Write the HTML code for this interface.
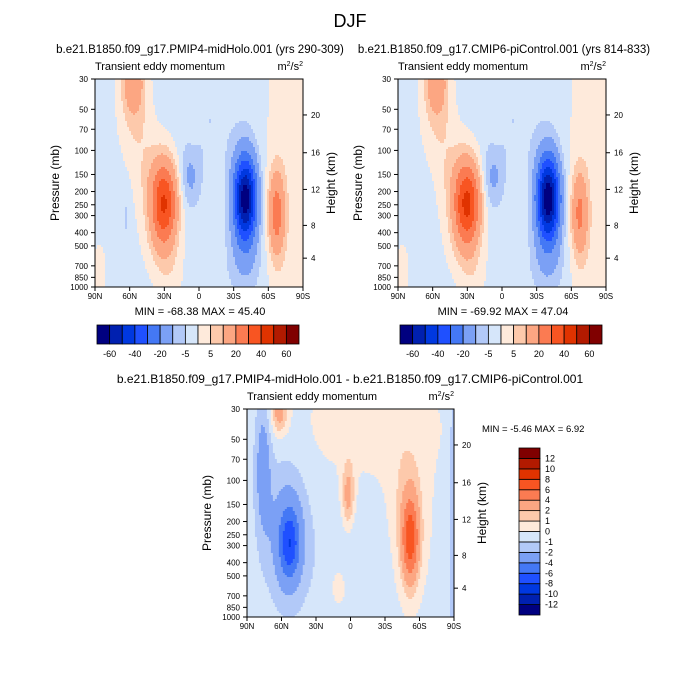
<!DOCTYPE html>
<html><head><meta charset="utf-8"><style>
body{margin:0;background:#fff;}
svg{display:block;font-family:"Liberation Sans",sans-serif;}
</style></head><body>
<svg id="chart" width="700" height="700" viewBox="0 0 700 700">
<text x="350" y="27" font-size="18" text-anchor="middle">DJF</text>
<text x="200" y="53" font-size="11.5" text-anchor="middle">b.e21.B1850.f09_g17.PMIP4-midHolo.001 (yrs 290-309)</text>
<text x="504" y="53" font-size="11.5" text-anchor="middle">b.e21.B1850.f09_g17.CMIP6-piControl.001 (yrs 814-833)</text>
<text x="350" y="383" font-size="12" text-anchor="middle">b.e21.B1850.f09_g17.PMIP4-midHolo.001 - b.e21.B1850.f09_g17.CMIP6-piControl.001</text>
<g id="layer"></g>
</svg>
<script>
const pTicks=[30,50,70,100,150,200,250,300,400,500,700,850,1000];
const hTicks=[20,16,12,8,4];
const hTickPress=[55,104,193,354,615];
const latTicks=["90N","60N","30N","0","30S","60S","90S"];
const latTickVals=[90,60,30,0,-30,-60,-90];
const levelsTop=[-60,-50,-40,-30,-20,-10,-5,0,5,10,20,30,40,50,60];
const labelsTop=["-60","-40","-20","-5","5","20","40","60"];
const levelsDiff=[-12,-10,-8,-6,-4,-2,-1,0,1,2,4,6,8,10,12];
const colors=["#000080","#0020b0","#0038e0","#1f50ff","#4478f5","#7ba0f5","#b2c9f8","#d6e6fa","#feeadb","#fdc9ab","#fca682","#fb7b52","#f85522","#e03300","#b21a00","#800000"];
// blobs: [lat, pressure(mb), amplitude, sigmaLat(deg), sigmaLnP]
const blobsMid=[[30,240,40,8,0.5],[-40,225,-64,7,0.5],[-67,290,24,5,0.5],[57,30,18,7,0.4],[55,60,6,10,0.5],[45,150,5,10,0.5],[35,400,5,10,0.5],[25,800,4,8,0.4],[8,160,-9,6,0.35],[63,300,-4,3,0.35],[-40,650,-7,11,0.45],[-75,300,4.5,14,3],[86,750,3.5,5,0.4],[5,70,3,3,0.2],[-10,60,-3,20,0.8]];
const blobsPi=[[30,240,42,8,0.5],[-40,225,-66,7,0.5],[-67,290,21,5,0.5],[57,30,18,7,0.4],[55,60,6,10,0.5],[45,150,5,10,0.5],[35,400,5,10,0.5],[25,800,4,8,0.4],[8,160,-9,6,0.35],[63,300,-3,3,0.35],[-40,650,-7,11,0.45],[-75,300,4.5,14,3],[86,750,3.5,5,0.4],[5,70,3,3,0.2],[-10,60,-3,20,0.8]];
const blobsDiff=[[53,290,-5.2,6,0.4],[55,250,-2.5,12,0.8],[76,80,-2.5,5,0.8],[-52,270,6.6,5,0.5],[-50,200,1.8,12,0.9],[2,130,3,4,0.4],[62,32,3,5,0.25],[-20,40,0.9,45,0.7],[10,600,1.2,6,0.3],[-5,400,-0.6,30,0.8],[-90,200,-1.5,3,3]];
const baseMid=-2, basePi=-2, baseDiff=-0.4;

const NS='http://www.w3.org/2000/svg';
const layer=document.getElementById('layer');
function mk(tag,attrs,parent){const e=document.createElementNS(NS,tag);for(const k in attrs)e.setAttribute(k,attrs[k]);(parent||layer).appendChild(e);return e;}
const L=Math.log(1000/30);
function field(blobs,base,lat,p){let v=base;const lp=Math.log(p);for(const b of blobs){const dx=(lat-b[0])/b[3],dy=(lp-Math.log(b[1]))/b[4];v+=b[2]*Math.exp(-0.5*(dx*dx+dy*dy));}return v;}
function colorFor(v,lev){let i=0;while(i<lev.length&&v>=lev[i])i++;return colors[i];}
function panel(x0,y0,w,h,blobs,base,lev,name){
  const g=mk('g',{});
  
  
  const xS=lat=>x0+(90-lat)/180*w;
  const yS=p=>y0+h*Math.log(p/30)/L;
  const nx=104,ny=104;
  for(let j=0;j<ny;j++){
    let start=0,cur=null;
    const lp=Math.log(30)+(j+0.5)*L/ny;const p=Math.exp(lp);
    for(let i=0;i<=nx;i++){
      const c=i<nx?colorFor(field(blobs,base,90-(i+0.5)*180/nx,p),lev):null;
      if(c!==cur){
        if(cur!==null){const r=mk('rect',{x:(x0+start*w/nx).toFixed(2),y:(y0+j*h/ny).toFixed(2),width:((i-start)*w/nx+0.5).toFixed(2),height:(h/ny+0.5).toFixed(2),fill:cur},g);
          
          }
        cur=c;start=i;
      }
    }
  }
  const fr=mk('rect',{x:x0,y:y0,width:w,height:h,fill:'none',stroke:'#000','stroke-width':1},g);
  
  
  pTicks.forEach(p=>{const y=yS(p);mk('line',{x1:x0-4,x2:x0,y1:y,y2:y,stroke:'#000'},g);
    const t=mk('text',{x:x0-7,y:y+3,'font-size':8,'text-anchor':'end'},g);t.textContent=p;
    
    });
  hTicks.forEach((hk,k)=>{const y=yS(hTickPress[k]);mk('line',{x1:x0+w,x2:x0+w+4,y1:y,y2:y,stroke:'#000'},g);
    const t=mk('text',{x:x0+w+8,y:y+3,'font-size':8},g);t.textContent=hk;
    
    });
  latTickVals.forEach((lv,k)=>{const x=xS(lv);mk('line',{x1:x,x2:x,y1:y0+h,y2:y0+h+4,stroke:'#000'},g);
    const t=mk('text',{x:x,y:y0+h+12,'font-size':8,'text-anchor':'middle'},g);t.textContent=latTicks[k];
    
    });
  const a=mk('text',{x:0,y:0,'font-size':12,'text-anchor':'middle',transform:`translate(${x0-36},${y0+h/2}) rotate(-90)`},g);a.textContent='Pressure (mb)';
  
  
  const b=mk('text',{x:0,y:0,'font-size':12,'text-anchor':'middle',transform:`translate(${x0+w+32},${y0+h/2}) rotate(-90)`},g);b.textContent='Height (km)';
  
  
  const c=mk('text',{x:x0,y:y0-9,'font-size':11,'textLength':130},g);c.textContent='Transient eddy momentum';
  
  
  const d=mk('text',{x:x0+w,y:y0-9,'font-size':11,'text-anchor':'end'},g);d.innerHTML='m<tspan dy="-4" font-size="7">2</tspan><tspan dy="4">/s</tspan><tspan dy="-4" font-size="7">2</tspan>';
  
  
}
panel(95,79,208,208,blobsMid,baseMid,levelsTop,'midholo-panel');
panel(398,79,208,208,blobsPi,basePi,levelsTop,'picontrol-panel');
panel(247,409,207,208,blobsDiff,baseDiff,levelsDiff,'difference-panel');

function txt(x,y,s,str,anchor,name){const t=mk('text',{x:x,y:y,'font-size':s,'text-anchor':anchor||'start','xml:space':'preserve'});t.textContent=str;
  
  }
txt(200,315,11,'MIN = -68.38  MAX =  45.40','middle','midholo-minmax');
txt(503,315,11,'MIN = -69.92  MAX =  47.04','middle','picontrol-minmax');
txt(482,432,9.5,'MIN =  -5.46  MAX =   6.92','start','difference-minmax');

function hbar(x0,y0,w,h,name){const g=mk('g',{});
  
  
  const bw=w/16;
  colors.forEach((c,i)=>{const r=mk('rect',{x:x0+i*bw,y:y0,width:bw,height:h,fill:c,stroke:'#000','stroke-width':0.8},g);
    
    });
  labelsTop.forEach((l,k)=>{const t=mk('text',{x:x0+(1+2*k)*bw,y:y0+h+13,'font-size':9,'text-anchor':'middle'},g);t.textContent=l;
    
    });
}
hbar(97,325,202,19,'midholo-colorbar');
hbar(400,325,202,19,'picontrol-colorbar');
(function(){const g=mk('g',{});
  
  
  const x0=519,y0=448,w=21,h=167,bh=h/16;
  colors.forEach((c,i)=>{const r=mk('rect',{x:x0,y:y0+(15-i)*bh,width:w,height:bh,fill:c,stroke:'#000','stroke-width':0.8},g);
    
    });
  levelsDiff.forEach((l,k)=>{const t=mk('text',{x:x0+w+5,y:y0+(15-k)*bh+3,'font-size':9},g);t.textContent=l;
    
    });
})();
</script>
</body></html>
